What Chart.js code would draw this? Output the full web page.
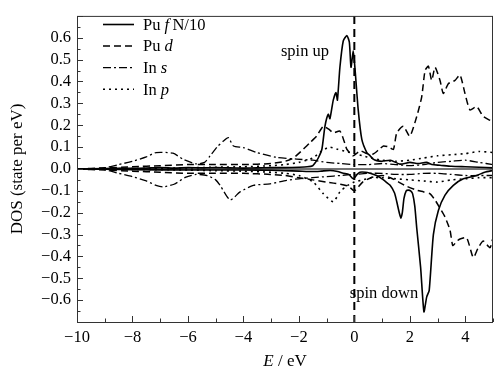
<!DOCTYPE html>
<html>
<head>
<meta charset="utf-8">
<script src="https://cdn.jsdelivr.net/npm/chart.js@4/dist/chart.umd.min.js"></script>
<style>
html,body{margin:0;padding:0;background:#fff;}
#c{display:block;}
</style>
</head>
<body>
<canvas id="c" width="497" height="372"></canvas>
<script>
// ---- Data (energy in eV, DOS in states per eV) ----
const xTickLabels = [-10, -8, -6, -4, -2, 0, 2, 4];
const yTickLabels = [-0.6, -0.5, -0.4, -0.3, -0.2, -0.1, 0.0, 0.1, 0.2, 0.3, 0.4, 0.5, 0.6];

// Pu f (N/10), spin up
const ePuFUp = [-10,-9,-8,-7.5,-7,-6.5,-6,-5.5,-5,-4.5,-4,-3.5,-3,-2.5,-2,-1.7,-1.5,-1.4,-1.3,-1.17,-1.06,-0.94,-0.88,-0.76,-0.66,-0.61,-0.52,-0.4,-0.27,-0.18,-0.12,-0.04,0.02,0.14,0.27,0.45,0.57,0.68,0.81,1.0,1.3,1.65,2.0,2.3,2.6,2.8,3.09,3.5,4,4.5,5];
const puFUp  = [0,0.002,0.003,0.004,0.006,0.004,0.006,0.005,0.006,0.005,0.004,0.005,0.006,0.006,0.008,0.01,0.015,0.03,0.05,0.09,0.195,0.25,0.23,0.315,0.35,0.315,0.465,0.585,0.61,0.58,0.465,0.54,0.465,0.27,0.135,0.075,0.06,0.045,0.038,0.035,0.04,0.022,0.03,0.025,0.03,0.02,0.017,0.012,0.01,0.008,0.005];
// Pu f (N/10), spin down
const ePuFDn = [-10,-8,-6,-4,-3,-2.5,-2,-1.5,-1.2,-0.87,-0.6,-0.4,-0.2,-0.04,0.1,0.2,0.4,0.57,0.8,0.93,1.1,1.29,1.45,1.53,1.62,1.68,1.73,1.79,1.87,1.95,2.03,2.1,2.18,2.25,2.39,2.51,2.61,2.7,2.85,3.03,3.27,3.57,3.93,4.41,4.7,5];
const puFDn  = [0,-0.003,-0.005,-0.005,-0.006,-0.008,-0.01,-0.012,-0.01,-0.007,-0.012,-0.02,-0.025,-0.045,-0.025,-0.015,-0.015,-0.02,-0.03,-0.04,-0.055,-0.075,-0.11,-0.15,-0.2,-0.225,-0.2,-0.135,-0.1,-0.097,-0.1,-0.113,-0.17,-0.27,-0.45,-0.653,-0.585,-0.555,-0.3,-0.19,-0.12,-0.075,-0.045,-0.03,-0.015,-0.007];

// Pu d, spin up
const ePuDUp = [-10,-9,-8,-7,-6,-5,-4,-3,-2.5,-2.2,-1.84,-1.6,-1.36,-1.12,-0.9,-0.76,-0.52,-0.35,-0.27,-0.04,0.21,0.45,0.68,0.9,1.05,1.25,1.41,1.53,1.77,2.0,2.25,2.43,2.55,2.67,2.79,2.91,3.09,3.21,3.39,3.63,3.81,3.99,4.17,4.41,4.65,4.95,5];
const puDUp  = [0,0.005,0.01,0.015,0.02,0.02,0.02,0.025,0.035,0.05,0.09,0.12,0.15,0.195,0.18,0.165,0.173,0.12,0.09,0.06,0.083,0.07,0.068,0.09,0.105,0.1,0.09,0.165,0.195,0.15,0.24,0.33,0.45,0.47,0.405,0.465,0.405,0.345,0.39,0.405,0.43,0.345,0.27,0.285,0.24,0.218,0.21];
// Pu d, spin down
const ePuDDn = [-10,-9,-8,-7,-6,-5,-4,-3,-2.5,-2,-1.5,-1,-0.5,-0.2,0,0.3,0.6,1.0,1.3,1.6,1.9,2.25,2.5,2.72,2.9,3.09,3.27,3.45,3.55,3.7,3.81,4.05,4.29,4.47,4.65,4.89,5];
const puDDn  = [0,-0.005,-0.01,-0.015,-0.02,-0.02,-0.02,-0.025,-0.03,-0.04,-0.05,-0.06,-0.07,-0.08,-0.1,-0.06,-0.04,-0.03,-0.04,-0.06,-0.08,-0.097,-0.105,-0.113,-0.14,-0.18,-0.22,-0.28,-0.35,-0.33,-0.32,-0.315,-0.405,-0.36,-0.33,-0.36,-0.315];

// In s, spin up
const eInSUp = [-10,-9.5,-9.07,-8.5,-8,-7.5,-7.15,-6.54,-6.18,-5.7,-5.4,-5.2,-4.95,-4.72,-4.54,-4.36,-4.0,-3.52,-2.8,-2.08,-1.5,-1.0,-0.5,0,0.5,1,1.5,2,2.5,3,3.5,4,4.5,5];
const inSUp  = [0,0,0.003,0.02,0.035,0.055,0.075,0.072,0.045,0.023,0.03,0.06,0.1,0.128,0.143,0.105,0.098,0.075,0.053,0.045,0.04,0.03,0.025,0.02,0.02,0.025,0.02,0.015,0.02,0.03,0.035,0.04,0.03,0.02];
// In s, spin down
const eInSDn = [-10,-9.5,-9,-8.5,-8,-7.5,-7.15,-6.9,-6.5,-6.07,-5.7,-5.3,-5.0,-4.84,-4.48,-4.12,-3.64,-3.04,-2.44,-2,-1.5,-1,-0.5,0,0.5,1,1.5,2,2.5,3,3.5,4,4.5,5];
const inSDn  = [0,0,-0.003,-0.02,-0.035,-0.055,-0.075,-0.082,-0.07,-0.037,-0.025,-0.03,-0.05,-0.075,-0.142,-0.105,-0.075,-0.068,-0.052,-0.045,-0.04,-0.035,-0.03,-0.025,-0.02,-0.02,-0.025,-0.025,-0.02,-0.02,-0.025,-0.03,-0.03,-0.03];

// In p, spin up
const eInPUp = [-10,-8,-6,-5,-4,-3,-2.5,-2,-1.5,-1.2,-0.9,-0.6,-0.3,0,0.3,0.6,1,1.5,2,2.5,3,3.5,4,4.5,5];
const inPUp  = [0,0.002,0.005,0.008,0.01,0.015,0.02,0.03,0.05,0.08,0.1,0.09,0.08,0.07,0.06,0.05,0.04,0.035,0.04,0.05,0.06,0.065,0.07,0.08,0.075];
// In p, spin down
const eInPDn = [-10,-8,-6,-5,-4,-3,-2.5,-2,-1.48,-1.12,-0.76,-0.52,-0.3,0,0.3,0.6,1,1.5,2,2.5,3,3.5,4,4.5,5];
const inPDn  = [0,-0.002,-0.005,-0.008,-0.01,-0.015,-0.02,-0.03,-0.06,-0.113,-0.15,-0.105,-0.08,-0.06,-0.05,-0.04,-0.04,-0.045,-0.05,-0.055,-0.06,-0.05,-0.045,-0.04,-0.04];

const fermiLevel = [0];

// ---- styles ----
const SERIF = '"Liberation Serif", "DejaVu Serif", serif';
const styles = {
  f: { dash: [], width: 1.6 },
  d: { dash: [7, 4], width: 1.5 },
  s: { dash: [8, 3, 2, 3], width: 1.3 },
  p: { dash: [2, 4], width: 1.6 }
};

function pts(xs, ys) { return xs.map((x, i) => ({ x: x, y: ys[i] })); }
function ds(label, xs, ys, st) {
  return {
    label: label, data: pts(xs, ys),
    borderColor: '#000', borderWidth: st.width, borderDash: st.dash,
    pointRadius: 0, tension: 0.2, fill: false
  };
}

const datasets = [
  ds('In p up', eInPUp, inPUp, styles.p),
  ds('In p down', eInPDn, inPDn, styles.p),
  ds('In s up', eInSUp, inSUp, styles.s),
  ds('In s down', eInSDn, inSDn, styles.s),
  ds('Pu d up', ePuDUp, puDUp, styles.d),
  ds('Pu d down', ePuDDn, puDDn, styles.d),
  ds('Pu f up', ePuFUp, puFUp, styles.f),
  ds('Pu f down', ePuFDn, puFDn, styles.f)
];

function mixedText(ctx, parts, x, y, size) {
  let cx = x;
  parts.forEach(p => {
    ctx.font = (p.i ? 'italic ' : '') + size + 'px ' + SERIF;
    ctx.fillText(p.t, cx, y);
    cx += ctx.measureText(p.t).width;
  });
  return cx - x;
}
function mixedWidth(ctx, parts, size) {
  let w = 0;
  parts.forEach(p => {
    ctx.font = (p.i ? 'italic ' : '') + size + 'px ' + SERIF;
    w += ctx.measureText(p.t).width;
  });
  return w;
}

const decor = {
  id: 'decor',
  beforeDatasetsDraw(chart) {
    const { ctx, chartArea: a, scales: { x, y } } = chart;
    ctx.save();
    ctx.strokeStyle = '#444';
    ctx.lineWidth = 1.6;
    ctx.beginPath();
    ctx.moveTo(a.left, y.getPixelForValue(0));
    ctx.lineTo(a.right, y.getPixelForValue(0));
    ctx.stroke();
    ctx.strokeStyle = '#000';
    ctx.lineWidth = 2;
    ctx.setLineDash([8, 5]);
    fermiLevel.forEach(e => {
      const px = x.getPixelForValue(e);
      ctx.beginPath();
      ctx.moveTo(px, a.top);
      ctx.lineTo(px, a.bottom);
      ctx.stroke();
    });
    ctx.restore();
  },
  afterDraw(chart) {
    const { ctx, chartArea: a, scales: { x, y } } = chart;
    ctx.save();
    ctx.strokeStyle = '#333';
    ctx.lineWidth = 1;
    ctx.strokeRect(a.left + 0.5, a.top + 0.5, a.right - a.left - 1, a.bottom - a.top);
    ctx.beginPath();
    for (let k = -14; k <= 14; k++) {
      const v = k * 0.05;
      const py = Math.round(y.getPixelForValue(v)) + 0.5;
      const len = (k % 2 === 0) ? 6 : 3.5;
      ctx.moveTo(a.left, py); ctx.lineTo(a.left + len, py);
    }
    for (let e = -10; e <= 5; e++) {
      const px = Math.round(x.getPixelForValue(e)) + 0.5;
      const len = (e % 2 === 0) ? 6 : 3.5;
      ctx.moveTo(px, a.bottom); ctx.lineTo(px, a.bottom - len);
    }
    ctx.stroke();

    ctx.fillStyle = '#000';
    ctx.textBaseline = 'middle';
    ctx.textAlign = 'left';
    const rows = [
      { st: styles.f, parts: [{ t: 'Pu ' }, { t: 'f', i: true }, { t: '\u2009N/10' }] },
      { st: styles.d, parts: [{ t: 'Pu ' }, { t: 'd', i: true }] },
      { st: styles.s, parts: [{ t: 'In ' }, { t: 's', i: true }] },
      { st: styles.p, parts: [{ t: 'In ' }, { t: 'p', i: true }] }
    ];
    rows.forEach((r, i) => {
      const ly = 24.5 + i * 21.6;
      ctx.strokeStyle = '#000';
      ctx.lineWidth = r.st.width;
      ctx.setLineDash(r.st.dash);
      ctx.beginPath();
      ctx.moveTo(103, ly); ctx.lineTo(134, ly);
      ctx.stroke();
      ctx.setLineDash([]);
      mixedText(ctx, r.parts, 143, ly + 1, 16.5);
    });
    ctx.font = '16.5px ' + SERIF;
    ctx.textAlign = 'center';
    ctx.fillText('spin up', 305, 52);
    ctx.fillText('spin down', 384, 294);
    ctx.textAlign = 'left';
    const xt = [{ t: 'E', i: true }, { t: ' / eV' }];
    const w = mixedWidth(ctx, xt, 17);
    mixedText(ctx, xt, (a.left + a.right) / 2 - w / 2, 362, 17);
    ctx.save();
    ctx.translate(18, (a.top + a.bottom) / 2);
    ctx.rotate(-Math.PI / 2);
    ctx.font = '17px ' + SERIF;
    ctx.textAlign = 'center';
    ctx.fillText('DOS (state per eV)', 0, 0);
    ctx.restore();
    ctx.restore();
  }
};

const fmt = v => (v < 0 ? '\u2212' : '') + Math.abs(v);

new Chart(document.getElementById('c'), {
  type: 'line',
  data: { datasets: datasets },
  options: {
    responsive: false,
    animation: false,
    layout: { padding: { top: 11, right: 4, left: 0, bottom: 0 } },
    plugins: { legend: { display: false }, tooltip: { enabled: false } },
    scales: {
      x: {
        type: 'linear', min: -10, max: 5,
        afterFit: s => { s.height = 50; },
        afterBuildTicks: s => { s.ticks = xTickLabels.map(v => ({ value: v })); },
        ticks: {
          color: '#000', padding: 6, maxRotation: 0, autoSkip: false,
          font: { family: SERIF, size: 16.5 },
          callback: v => fmt(v)
        },
        grid: { display: true, drawOnChartArea: false, drawTicks: false },
        border: { display: false }
      },
      y: {
        type: 'linear', min: -0.7, max: 0.7,
        afterFit: s => { s.width = 77; },
        afterBuildTicks: s => { s.ticks = yTickLabels.map(v => ({ value: v })); },
        ticks: {
          color: '#000', padding: 6, autoSkip: false,
          font: { family: SERIF, size: 16.5 },
          callback: v => (v < -1e-9 ? '\u2212' : '') + Math.abs(v).toFixed(1)
        },
        grid: { display: true, drawOnChartArea: false, drawTicks: false },
        border: { display: false }
      }
    }
  },
  plugins: [decor]
});
</script>
</body>
</html>
